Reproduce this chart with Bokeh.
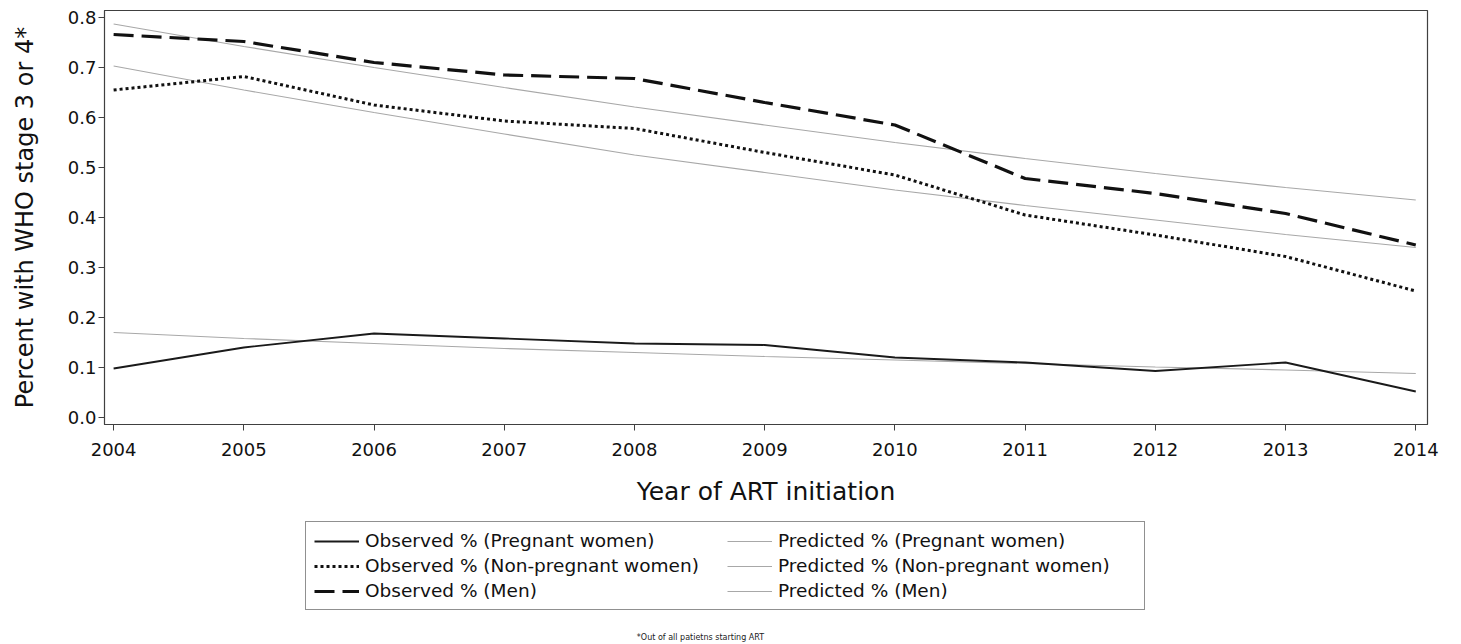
from bokeh.plotting import figure
from bokeh.layouts import column
from bokeh.models import Range1d, FixedTicker, PrintfTickFormatter, Legend, LegendItem
from bokeh.core.properties import value
from bokeh.embed import file_html
from bokeh.resources import INLINE

years = [2004, 2005, 2006, 2007, 2008, 2009, 2010, 2011, 2012, 2013, 2014]

obs_pregnant = [0.098, 0.140, 0.168, 0.158, 0.148, 0.145, 0.120, 0.110, 0.093, 0.110, 0.052]
obs_nonpregnant = [0.655, 0.682, 0.625, 0.593, 0.578, 0.530, 0.485, 0.405, 0.365, 0.322, 0.253]
obs_men = [0.766, 0.752, 0.710, 0.685, 0.678, 0.630, 0.585, 0.478, 0.448, 0.408, 0.345]

pred_pregnant = [0.170, 0.158, 0.148, 0.138, 0.130, 0.122, 0.115, 0.108, 0.101, 0.095, 0.088]
pred_nonpregnant = [0.703, 0.655, 0.610, 0.567, 0.525, 0.490, 0.455, 0.424, 0.395, 0.366, 0.340]
pred_men = [0.787, 0.742, 0.700, 0.660, 0.621, 0.585, 0.550, 0.518, 0.488, 0.460, 0.435]

y_ticks = [0.0, 0.1, 0.2, 0.3, 0.4, 0.5, 0.6, 0.7, 0.8]

labels = [
    "Observed % (Pregnant women)",
    "Observed % (Non-pregnant women)",
    "Observed % (Men)",
    "Predicted % (Pregnant women)",
    "Predicted % (Non-pregnant women)",
    "Predicted % (Men)",
]
footnote = "*Out of all patietns starting ART"

FONT = "DejaVu Sans"
GRAY = "#a8a8a8"
W = 1445
H1 = 515
H2 = 128
FL, FR = 104, 1427  # frame left / right in page pixels

styles = [
    dict(line_color="#1a1a1a", line_width=1.8),
    dict(line_color="#111111", line_width=3, line_dash="3 3"),
    dict(line_color="#111111", line_width=3.2, line_dash="20 8"),
    dict(line_color=GRAY, line_width=1.2),
    dict(line_color=GRAY, line_width=1.2),
    dict(line_color=GRAY, line_width=1.2),
]
series = [obs_pregnant, obs_nonpregnant, obs_men, pred_pregnant, pred_nonpregnant, pred_men]

p = figure(width=W, height=H1, output_backend="svg", toolbar_location=None,
           x_range=Range1d(2003.93, 2014.09), y_range=Range1d(-0.014, 0.814),
           min_border_left=FL, min_border_right=W - FR, min_border_top=10,
           min_border_bottom=91)
p.grid.visible = False
p.outline_line_color = "#404040"
p.outline_line_width = 1.2

# predicted first (drawn below), then observed
for i in (3, 4, 5, 0, 1, 2):
    p.line(years, series[i], **styles[i])

p.xaxis.ticker = FixedTicker(ticks=years)
p.yaxis.ticker = FixedTicker(ticks=y_ticks)
p.yaxis.formatter = PrintfTickFormatter(format="%.1f")
for ax in (p.xaxis[0], p.yaxis[0]):
    ax.axis_line_color = "#404040"
    ax.major_tick_line_color = "#404040"
    ax.major_tick_out = 6
    ax.major_tick_in = 0
    ax.minor_tick_out = 0
    ax.minor_tick_in = 0
    ax.major_label_text_font = FONT
    ax.major_label_text_font_size = "18px"
    ax.major_label_text_color = "#111111"
    ax.axis_label_text_font = FONT
    ax.axis_label_text_font_style = "normal"
    ax.axis_label_text_color = "#111111"

p.xaxis.axis_label = "Year of ART initiation"
p.xaxis.axis_label_text_font_size = "25px"
p.xaxis.major_label_standoff = 12
p.xaxis.axis_label_standoff = 18
p.yaxis.axis_label = "Percent with WHO stage 3 or 4*"
p.yaxis.axis_label_text_font_size = "24px"
p.yaxis.major_label_standoff = 2
p.yaxis.axis_label_standoff = 26

# legend + footnote panel (its frame is aligned with the main frame)
q = figure(width=W, height=H2, output_backend="svg", toolbar_location=None,
           x_range=Range1d(FL, FR), y_range=Range1d(0, H2),
           min_border_left=FL, min_border_right=W - FR,
           min_border_top=0, min_border_bottom=0)
q.axis.visible = False
q.grid.visible = False
q.outline_line_color = None

items = []
for i in range(6):
    r = q.line([-1000, -900], [-1000, -1000], **styles[i])
    items.append(LegendItem(label=labels[i], renderers=[r]))

legend = Legend(items=items, location=(305 - FL, H2 - 95), nrows=3, ncols=2,
                orientation="vertical",
                label_text_font=FONT, label_text_font_size="18.5px",
                label_text_color="#111111",
                glyph_width=45, glyph_height=20, label_standoff=6,
                label_width=358, label_height=20, spacing=4, padding=8, margin=0,
                border_line_color="#222222", border_line_width=1,
                background_fill_alpha=1.0, background_fill_color="white")
q.add_layout(legend, "center")

q.text(x=[700], y=[H2 - 122], text=[footnote], text_font=value(FONT),
       text_font_size="8px", text_color="#222222", text_align="center",
       text_baseline="middle")

layout = column(p, q, spacing=0)
open("out.html", "w").write(file_html(layout, INLINE))
